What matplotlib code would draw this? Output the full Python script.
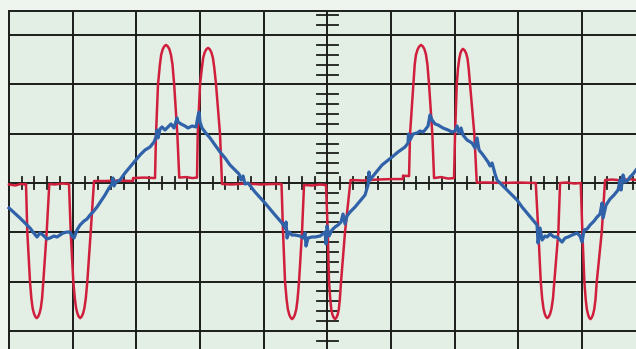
import matplotlib
matplotlib.use("Agg")
import matplotlib.pyplot as plt

# ---- time base: ms (5 ms/div), amplitude in divisions ----
# Red trace (pulses), read from the screen
red_t = [0.00, 0.50, 0.90, 1.335,
         # trough 1
         1.335, 1.437, 1.649, 1.756, 1.856, 1.966, 2.066, 2.176, 2.286, 2.386, 2.496, 2.596, 2.694, 2.961, 3.165,
         3.60, 4.20, 4.712,
         # trough 2
         4.712, 4.846, 5.050, 5.17, 5.27, 5.38, 5.48, 5.59, 5.70, 5.81, 5.92, 6.03, 6.150, 6.417, 6.676,
         7.50, 8.60, 9.739, 9.739, 10.60, 11.467,
         # hump 1
         11.467, 11.545, 11.702, 11.85, 11.95, 12.07, 12.19, 12.331, 12.47, 12.60, 12.72, 12.84, 12.97, 13.22, 13.37,
         13.90, 14.40, 14.766,
         # hump 2
         14.766, 14.821, 15.002, 15.15, 15.25, 15.37, 15.49, 15.63, 15.77, 15.89, 16.01, 16.12, 16.258, 16.572, 16.729,
         17.50, 18.60, 19.80, 20.70, 21.401,
         # trough 3
         21.401, 21.520, 21.677, 21.80, 21.90, 22.01, 22.12, 22.227, 22.34, 22.45, 22.56, 22.66, 22.777, 23.012, 23.169,
         23.80, 24.40, 24.897,
         # trough 4
         24.897, 25.031, 25.133, 25.23, 25.31, 25.40, 25.50, 25.604, 25.71, 25.81, 25.90, 25.98, 26.076, 26.390, 26.822,
         27.80, 28.90, 30.00, 30.94, 30.94, 31.416,
         # hump 3
         31.416, 31.494, 31.753, 31.86, 31.96, 32.09, 32.22, 32.358, 32.50, 32.63, 32.75, 32.86, 32.987, 33.246, 33.380,
         33.90, 34.50, 34.950,
         # hump 4
         34.950, 35.029, 35.162, 35.26, 35.36, 35.45, 35.54, 35.65, 35.78, 35.90, 36.01, 36.10, 36.207, 36.545, 36.734,
         37.60, 38.80, 40.00, 41.367,
         # trough 5
         41.367, 41.571, 41.760, 41.87, 41.97, 42.07, 42.17, 42.28, 42.39, 42.50, 42.61, 42.72, 42.828, 43.142, 43.276,
         43.80, 44.40, 44.902,
         # trough 6
         44.902, 45.027, 45.185, 45.29, 45.38, 45.48, 45.56, 45.66, 45.76, 45.86, 45.96, 46.06, 46.159, 46.551, 46.811,
         47.40, 48.20, 48.70, 49.30]
red_v = [-0.03, -0.05, -0.02, -0.03,
         -0.02, -0.99, -2.00, -2.34, -2.54, -2.65, -2.71, -2.74, -2.71, -2.65, -2.54, -2.34, -2.00, -0.99, -0.02,
         -0.03, -0.01, -0.02,
         -0.02, -0.99, -2.00, -2.34, -2.54, -2.65, -2.71, -2.74, -2.71, -2.65, -2.54, -2.34, -2.00, -0.99, 0.04,
         0.04, 0.05, 0.04, 0.10, 0.11, 0.10,
         0.10, 0.99, 2.00, 2.40, 2.60, 2.71, 2.77, 2.80, 2.77, 2.71, 2.60, 2.40, 2.00, 0.99, 0.11,
         0.12, 0.10, 0.11,
         0.11, 0.99, 2.00, 2.34, 2.54, 2.65, 2.71, 2.74, 2.71, 2.65, 2.54, 2.34, 2.00, 0.99, -0.02,
         -0.03, -0.01, -0.03, -0.02, -0.02,
         -0.02, -0.99, -2.00, -2.36, -2.56, -2.67, -2.73, -2.76, -2.73, -2.67, -2.56, -2.36, -2.00, -0.99, -0.04,
         -0.05, -0.03, -0.04,
         -0.04, -0.99, -2.00, -2.36, -2.56, -2.67, -2.73, -2.76, -2.73, -2.67, -2.56, -2.36, -2.00, -0.99, 0.06,
         0.05, 0.07, 0.08, 0.08, 0.15, 0.14,
         0.14, 0.99, 2.00, 2.40, 2.60, 2.71, 2.77, 2.80, 2.77, 2.71, 2.60, 2.40, 2.00, 0.99, 0.10,
         0.12, 0.09, 0.10,
         0.10, 0.99, 2.00, 2.32, 2.52, 2.63, 2.69, 2.72, 2.69, 2.63, 2.52, 2.32, 2.00, 0.99, 0.01,
         0.01, 0.00, 0.01, 0.00,
         0.00, -0.99, -2.00, -2.34, -2.54, -2.65, -2.71, -2.74, -2.71, -2.65, -2.54, -2.34, -2.00, -0.99, 0.00,
         0.01, -0.01, 0.00,
         0.00, -0.99, -2.00, -2.36, -2.56, -2.67, -2.73, -2.76, -2.73, -2.67, -2.56, -2.36, -2.00, -0.99, 0.06,
         0.07, 0.05, 0.08, 0.06]

# Blue trace (noisy mains voltage)
blue_t = [0.000, 0.864, 1.649, 1.885, 2.199, 2.435, 2.670, 2.985, 3.220, 3.534, 3.770, 4.006,
          4.241, 4.555, 4.791, 4.948, 5.105, 5.341, 5.576, 5.891, 6.126, 6.362, 6.597, 6.912,
          7.226, 7.540, 7.854, 8.090, 8.168, 8.247, 8.404, 8.718, 9.111, 9.503, 9.896, 10.289,
          10.682, 11.074, 11.388, 11.545, 11.624, 11.703, 11.860, 12.017, 12.252, 12.488, 12.723,
          12.959, 13.195, 13.273, 13.509, 13.823, 14.059, 14.373, 14.687, 14.844, 14.923, 15.001,
          15.158, 15.394, 15.786, 16.179, 16.572, 16.965, 17.357, 17.750, 18.064, 18.221, 18.378,
          18.535, 18.771, 19.321, 20.106, 20.892, 21.442, 21.677, 21.756, 21.834, 21.991, 22.227,
          22.462, 22.855, 23.091, 23.248, 23.326, 23.484, 23.798, 24.033, 24.426, 24.819, 24.897,
          24.976, 25.133, 25.368, 25.604, 25.840, 26.075, 26.232, 26.389, 26.547, 26.782, 27.175,
          27.568, 27.960, 28.196, 28.274, 28.353, 28.589, 28.981, 29.295, 29.688, 30.081, 30.552,
          31.102, 31.337, 31.377, 31.494, 31.730, 32.044, 32.280, 32.515, 32.672, 32.908, 33.065,
          33.222, 33.458, 33.694, 34.086, 34.479, 34.793, 35.029, 35.186, 35.343, 35.500, 35.657,
          35.971, 36.364, 36.600, 36.757, 36.914, 37.228, 37.621, 37.778, 37.935, 38.170, 38.327,
          38.720, 39.113, 39.506, 39.898, 40.291, 40.684, 41.076, 41.469, 41.548, 41.705, 41.862,
          42.097, 42.255, 42.490, 42.804, 43.040, 43.276, 43.433, 43.668, 43.904, 44.218, 44.611,
          44.846, 45.003, 45.160, 45.396, 45.632, 45.946, 46.181, 46.417, 46.574, 46.653, 46.888,
          47.202, 47.516, 47.831, 47.988, 48.066, 48.223, 48.380, 48.616, 48.773, 49.008, 49.244]
blue_v = [-0.507, -0.710, -0.913, -0.994, -1.095, -1.014, -1.055, -1.136, -1.115, -1.075, -1.095, -1.055,
          -1.014, -0.994, -0.994, -1.075, -1.115, -0.953, -0.852, -0.771, -0.730, -0.649, -0.588, -0.487,
          -0.365, -0.243, -0.101, -0.020, 0.101, -0.061, 0.020, 0.061, 0.203, 0.324, 0.446, 0.568,
          0.669, 0.730, 0.831, 0.933, 1.075, 0.913, 1.095, 1.136, 1.075, 1.136, 1.197,
          1.115, 1.318, 1.237, 1.197, 1.156, 1.115, 1.156, 1.136, 1.359, 1.440, 1.237,
          1.115, 1.034, 0.913, 0.771, 0.629, 0.507, 0.365, 0.264, 0.183, 0.061, 0.142,
          -0.020, 0.000, -0.183, -0.406, -0.649, -0.811, -0.913, -0.791, -1.115, -0.994, -1.055,
          -1.055, -1.075, -1.115, -1.014, -1.278, -1.115, -1.095, -1.095, -1.075, -0.994, -1.237,
          -0.872, -1.075, -0.953, -0.892, -0.852, -0.791, -0.629, -0.831, -0.669, -0.588, -0.487,
          -0.365, -0.243, -0.041, 0.223, 0.061, 0.142, 0.264, 0.365, 0.446, 0.527, 0.629,
          0.730, 0.811, 0.994, 0.872, 0.994, 1.014, 1.055, 1.034, 1.075, 1.156, 1.379,
          1.278, 1.197, 1.176, 1.115, 1.075, 1.034, 1.055, 1.156, 1.014, 1.115, 0.973,
          0.872, 0.811, 0.710, 0.913, 0.669, 0.568, 0.426, 0.345, 0.406, 0.183, 0.061,
          -0.041, -0.142, -0.243, -0.345, -0.487, -0.608, -0.730, -0.852, -1.217, -0.913, -1.156,
          -1.075, -1.095, -1.034, -1.095, -1.095, -1.156, -1.197, -1.115, -1.095, -1.055, -1.014,
          -1.075, -1.197, -0.953, -0.933, -0.852, -0.771, -0.690, -0.629, -0.406, -0.710, -0.446,
          -0.324, -0.243, -0.142, 0.061, -0.142, 0.162, 0.020, 0.061, 0.122, 0.183, 0.264]

# Graticule
x_major = [0, 5, 10, 15, 20, 25, 30, 35, 40, 45]
y_major = [-3, -2, -1, 0, 1, 2, 3]
x_center = 25
y_top = 3.49

BG = "#e3eee4"
OUTER = "#eef4ee"
GRID = "#1b1d1b"
RED = "#d01f3c"
BLUE = "#3062aa"

fig = plt.figure(figsize=(6.36, 3.49), dpi=100, facecolor=OUTER)
ax = fig.add_axes([0, 0, 1, 1])
ax.set_facecolor(OUTER)
ax.set_xlim(-0.707, 49.24)
ax.set_ylim(-3.366, 3.711)
ax.axis("off")

# screen area
ax.fill_between([0, 49.3], -3.4, y_top, color=BG, zorder=0, linewidth=0)

for xv in x_major:
    ax.plot([xv, xv], [-3.4, y_top], color=GRID, lw=1.4, zorder=1, solid_capstyle="butt")
for yv in y_major:
    ax.plot([0, 49.3], [yv, yv], color=GRID, lw=1.4, zorder=1, solid_capstyle="butt")
ax.plot([0, 49.3], [y_top, y_top], color=GRID, lw=1.4, zorder=1)

# center-axis minor ticks
t = 0.0
while t < 49.3:
    if abs(t - round(t / 5) * 5) > 1e-6:
        ax.plot([t, t], [-0.13, 0.13], color=GRID, lw=1.3, zorder=1)
    t += 1.0
v = -3.4
while v < y_top:
    if abs(v - round(v)) > 1e-6:
        ax.plot([x_center - 0.8, x_center + 0.8], [v, v], color=GRID, lw=1.3, zorder=1)
    v = round(v + 0.2, 3)

ax.plot(red_t, red_v, color=RED, lw=1.8, zorder=3, solid_joinstyle="round")
ax.plot(blue_t, blue_v, color=BLUE, lw=2.3, zorder=4, solid_joinstyle="round")

fig.savefig("out.png", dpi=100, facecolor=OUTER)
